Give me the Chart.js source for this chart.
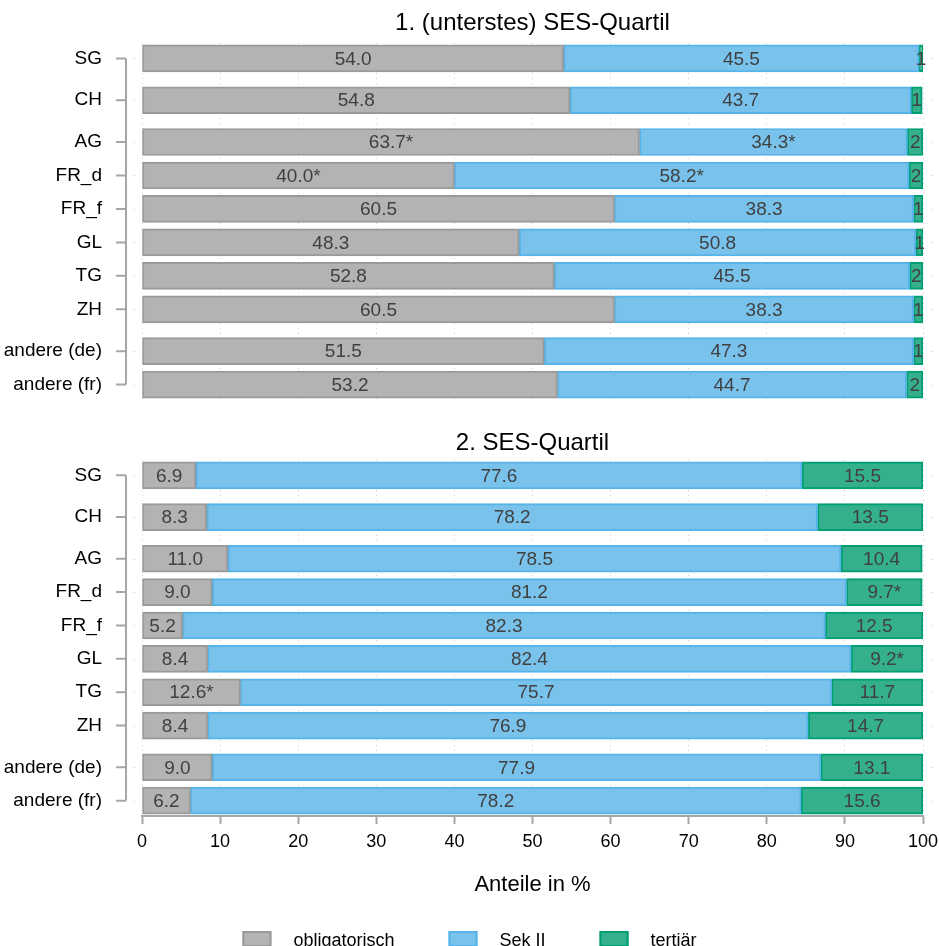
<!DOCTYPE html>
<html><head><meta charset="utf-8">
<script src="https://cdn.jsdelivr.net/npm/chart.js@4/dist/chart.umd.min.js"></script>
<style>
html,body{margin:0;padding:0;background:#fff;width:939px;height:946px;overflow:hidden}
.box{position:absolute;left:0;width:939px}
</style></head>
<body>
<div class="box" style="top:0;height:420px"><canvas id="c1" width="939" height="420"></canvas></div>
<div class="box" style="top:420px;height:526px"><canvas id="c2" width="939" height="526"></canvas></div>
<script>
// ---- data ----
const categories = ['SG','CH','AG','FR_d','FR_f','GL','TG','ZH','andere (de)','andere (fr)'];
const seriesNames = ['obligatorisch','Sek II','tertiär'];
const panelTitles = ['1. (unterstes) SES-Quartil','2. SES-Quartil'];
const xTicks = [0,10,20,30,40,50,60,70,80,90,100];

const q1Oblig = [54.0,54.8,63.7,40.0,60.5,48.3,52.8,60.5,51.5,53.2];
const q1SekII = [45.5,43.7,34.3,58.2,38.3,50.8,45.5,38.3,47.3,44.7];
const q1Tert  = [0.5,1.4,2.0,1.8,1.2,0.9,1.7,1.2,1.2,2.1];
const q1ObligLabels = ['54.0','54.8','63.7*','40.0*','60.5','48.3','52.8','60.5','51.5','53.2'];
const q1SekIILabels = ['45.5','43.7','34.3*','58.2*','38.3','50.8','45.5','38.3','47.3','44.7'];
const q1TertLabels  = ['1','1','2','2','1','1','2','1','1','2'];

const q2Oblig = [6.9,8.3,11.0,9.0,5.2,8.4,12.6,8.4,9.0,6.2];
const q2SekII = [77.6,78.2,78.5,81.2,82.3,82.4,75.7,76.9,77.9,78.2];
const q2Tert  = [15.5,13.5,10.4,9.7,12.5,9.2,11.7,14.7,13.1,15.6];
const q2ObligLabels = ['6.9','8.3','11.0','9.0','5.2','8.4','12.6*','8.4','9.0','6.2'];
const q2SekIILabels = ['77.6','78.2','78.5','81.2','82.3','82.4','75.7','76.9','77.9','78.2'];
const q2TertLabels  = ['15.5','13.5','10.4','9.7*','12.5','9.2*','11.7','14.7','13.1','15.6'];

// ---- layout (row slots on the y scale; gaps after CH / ZH groups) ----
const slots = [0,1.25,2.5,3.5,4.5,5.5,6.5,7.5,8.75,9.75];

const FILLS = ['#b3b3b3','#78c2ec','#35b08c'];
const BORDERS = ['#9a9a9a','#56b4e9','#009e73'];
const FONT = "'Liberation Sans', Arial, sans-serif";
Chart.defaults.font.family = FONT;
Chart.defaults.color = '#000';

function makeDatasets(vals, labels){
  return vals.map((v,k)=>({
    label: seriesNames[k],
    data: categories.map((c,i)=>({x:v[i], y:slots[i]})),
    valueLabels: labels[k],
    backgroundColor: FILLS[k],
    borderColor: BORDERS[k],
    borderWidth: 2,
    borderSkipped: false,
    barThickness: 27,
    stack: 's'
  }));
}

const valueLabelPlugin = {
  id:'valueLabels',
  afterDatasetsDraw(chart){
    const ctx = chart.ctx;
    ctx.save();
    ctx.font = '19px ' + FONT;
    ctx.fillStyle = '#404040';
    ctx.textAlign = 'center';
    ctx.textBaseline = 'middle';
    chart.data.datasets.forEach((ds,di)=>{
      const meta = chart.getDatasetMeta(di);
      meta.data.forEach((bar,j)=>{
        const p = bar.getProps(['x','base','y'], true);
        ctx.fillText(ds.valueLabels[j], (p.x+p.base)/2, p.y+1);
      });
    });
    ctx.restore();
  }
};

const decoPlugin = {
  id:'deco',
  beforeDatasetsDraw(chart, args, opts){
    const ctx = chart.ctx, ys = chart.scales.y, a = chart.chartArea;
    ctx.save();
    ctx.fillStyle = '#bdbdbd';
    slots.forEach(s=>{
      const y = Math.round(ys.getPixelForValue(s));
      ctx.fillRect(a.left-8, y, 1, 1);
      ctx.fillRect(a.right+9, y, 1, 1);
    });
    ctx.restore();
  },
  afterDraw(chart, args, opts){
    const ctx = chart.ctx, ys = chart.scales.y, a = chart.chartArea;
    ctx.save();
    // bracket axis
    ctx.strokeStyle = '#a6a6a6';
    ctx.lineWidth = 2;
    const xl = a.left - 16;
    const y0 = ys.getPixelForValue(slots[0]);
    const y1 = ys.getPixelForValue(slots[slots.length-1]);
    ctx.beginPath();
    ctx.moveTo(xl, y0); ctx.lineTo(xl, y1);
    slots.forEach(s=>{
      const y = ys.getPixelForValue(s);
      ctx.moveTo(xl-10, y); ctx.lineTo(xl, y);
    });
    ctx.stroke();
    // panel title
    ctx.fillStyle = '#000';
    ctx.font = '24px ' + FONT;
    ctx.textAlign = 'center';
    ctx.textBaseline = 'alphabetic';
    ctx.fillText(opts.title, (a.left+a.right)/2, opts.titleY);
    // legend
    if (opts.legend){
      ctx.font = '18px ' + FONT;
      const boxW = 29, boxH = 16, gap = 22, sep = 54;
      const widths = chart.data.datasets.map(d=>ctx.measureText(d.label).width);
      let total = 0;
      widths.forEach((w,i)=>{ total += boxW + gap + w + (i<widths.length-1?sep:0); });
      let x = chart.width/2 - total/2;
      const yTop = opts.legendY;
      ctx.textAlign = 'left';
      ctx.textBaseline = 'middle';
      chart.data.datasets.forEach((d,i)=>{
        ctx.fillStyle = d.backgroundColor;
        ctx.fillRect(x, yTop, boxW, boxH);
        ctx.strokeStyle = d.borderColor;
        ctx.lineWidth = 2;
        ctx.strokeRect(x+1, yTop+1, boxW-2, boxH-2);
        ctx.fillStyle = '#000';
        ctx.fillText(d.label, x+boxW+gap, yTop+boxH/2+2);
        x += boxW + gap + widths[i] + sep;
      });
    }
    ctx.restore();
  }
};

function buildChart(id, vals, labels, bottom){
  const yScale = {
    type:'linear', reverse:true, min:-0.46, max:10.21, stacked:true, offset:false,
    afterBuildTicks(s){ s.ticks = slots.map(v=>({value:v})); },
    afterFit(s){ s.width = 142; s.paddingTop = 0; s.paddingBottom = 0; },
    ticks:{ padding:32, font:{size:19}, color:'#000', autoSkip:false,
      callback:(v)=>{ const i = slots.indexOf(v); return i>=0?categories[i]:''; } },
    grid:{ display:false },
    border:{ display:false }
  };
  const xScale = bottom ? {
    type:'linear', min:0, max:100, stacked:true, offset:false,
    afterBuildTicks(s){ s.ticks = xTicks.map(v=>({value:v})); },
    afterFit(s){ s.height = 86; s.paddingLeft = 0; s.paddingRight = 0; },
    ticks:{ font:{size:18}, color:'#000', padding:7, maxRotation:0 },
    grid:{ color:'#cfcfcf', lineWidth:1, drawTicks:true, tickLength:8, tickColor:'#a6a6a6', tickWidth:2 },
    border:{ display:true, color:'#a6a6a6', width:2, dash:[1,4] },
    title:{ display:true, text:'Anteile in %', font:{size:22}, color:'#000', padding:{top:4,bottom:4} }
  } : {
    type:'linear', min:0, max:100, stacked:true, offset:false,
    afterBuildTicks(s){ s.ticks = xTicks.map(v=>({value:v})); },
    afterFit(s){ s.height = 0; s.paddingLeft = 0; s.paddingRight = 0; },
    ticks:{ display:false },
    grid:{ color:'#cfcfcf', lineWidth:1, drawTicks:false },
    border:{ display:false, dash:[1,4] }
  };
  return new Chart(document.getElementById(id), {
    type:'bar',
    data:{ datasets: makeDatasets(vals, labels) },
    options:{
      indexAxis:'y',
      responsive:false,
      animation:false,
      layout:{ padding: bottom ? {top:40,bottom:44,left:0,right:16} : {top:43,bottom:20,left:0,right:16} },
      scales:{ x:xScale, y:yScale },
      plugins:{
        legend:{ display:false },
        tooltip:{ enabled:false },
        deco: bottom ? {title:panelTitles[1], titleY:30, legend:true, legendY:511} : {title:panelTitles[0], titleY:30, legend:false}
      }
    },
    plugins:[valueLabelPlugin, decoPlugin]
  });
}

buildChart('c1', [q1Oblig,q1SekII,q1Tert], [q1ObligLabels,q1SekIILabels,q1TertLabels], false);
buildChart('c2', [q2Oblig,q2SekII,q2Tert], [q2ObligLabels,q2SekIILabels,q2TertLabels], true);
</script>
</body></html>
